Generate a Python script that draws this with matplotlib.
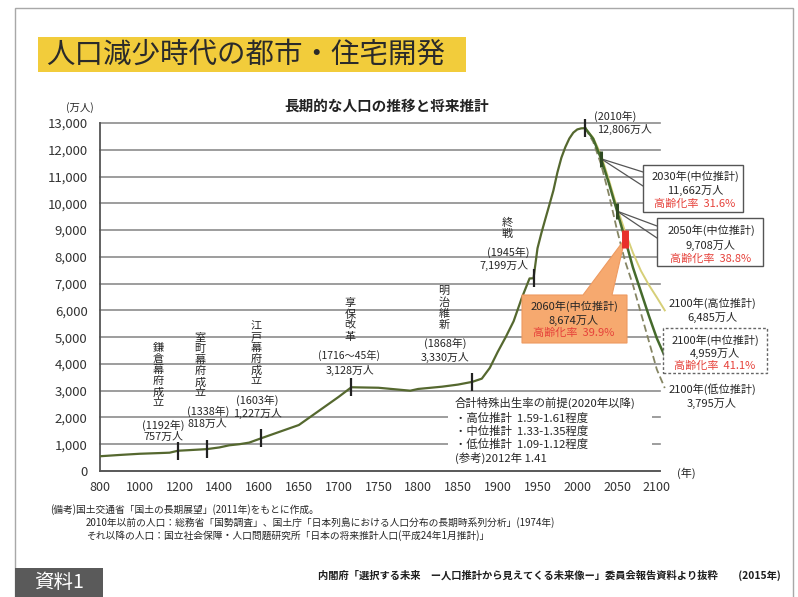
import numpy as np
import matplotlib
matplotlib.use("Agg")
import matplotlib.pyplot as plt
from matplotlib.patches import Rectangle, Polygon
from matplotlib.lines import Line2D
from matplotlib.ticker import NullLocator

plt.rcParams['font.family'] = ['Noto Sans CJK JP', 'DejaVu Sans']

# ---------------- data ----------------
TICK_YEARS = [800, 1000, 1200, 1400, 1600, 1650, 1700, 1750, 1800, 1850,
              1900, 1950, 2000, 2050, 2100]
Y_TICKS = [0, 1000, 2000, 3000, 4000, 5000, 6000, 7000, 8000, 9000,
           10000, 11000, 12000, 13000]

HIST_YEARS = [800, 900, 1000, 1100, 1150, 1192, 1250, 1338, 1400, 1450, 1500,
              1550, 1603, 1650, 1700, 1716, 1750, 1790, 1800, 1830, 1850, 1868,
              1880, 1890, 1900, 1910, 1920, 1930, 1940, 1945, 1950, 1955, 1960,
              1965, 1970, 1975, 1980, 1985, 1990, 1995, 2000, 2005, 2010]
HIST_POP = [551, 600, 644, 670, 684, 757, 780, 818, 880, 960, 1000,
            1060, 1227, 1718, 2769, 3128, 3110, 3000, 3065, 3150, 3228, 3330,
            3450, 3850, 4450, 5000, 5596, 6445, 7193, 7199, 8320, 8900, 9430,
            9950, 10480, 11150, 11700, 12100, 12420, 12640, 12760, 12800, 12806]

PROJ_YEARS = [2010, 2020, 2030, 2040, 2050, 2060, 2070, 2080, 2090, 2100, 2110]
PROJ_MED = [12806, 12410, 11662, 10728, 9708, 8674, 7600, 6700, 5800, 4959, 4286]
PROJ_HIGH = [12806, 12450, 11800, 10850, 9850, 8950, 8150, 7480, 6950, 6485, 6000]
PROJ_LOW = [12806, 12300, 11450, 10300, 9000, 7850, 6950, 5900, 4850, 3795, 3100]

EVENT_YEARS = [1192, 1338, 1603, 1716, 1868, 1945, 2010]
EVENT_POP = [757, 818, 1227, 3128, 3330, 7199, 12806]
PROJ_MARK_YEARS = [2030, 2050]
PROJ_MARK_POP = [11662, 9708]
RED_YEAR = 2060
RED_POP = 8674

# ---------------- figure ----------------
W, H = 798, 597
fig = plt.figure(figsize=(W / 100, H / 100), dpi=100)
fig.patch.set_facecolor('white')


def P(x, y):
    return (x / W, 1 - y / H)


ax = fig.add_axes([100 / W, 1 - 471 / H, 560 / W, 348 / H])

SC_YEARS = np.array(TICK_YEARS + [2150], dtype=float)
SC_IDX = np.arange(len(SC_YEARS), dtype=float)


def fwd(x):
    return np.interp(x, SC_YEARS, SC_IDX)


def inv(i):
    return np.interp(i, SC_IDX, SC_YEARS)


ax.set_xscale('function', functions=(fwd, inv))
ax.set_xlim(800, 2104)
ax.set_ylim(0, 13000)
ax.set_xticks(TICK_YEARS)
ax.set_xticklabels([str(t) for t in TICK_YEARS])
ax.xaxis.set_minor_locator(NullLocator())
ax.set_yticks(Y_TICKS)
ax.set_yticklabels([f"{v:,}" for v in Y_TICKS])
ax.tick_params(axis='x', length=0, pad=7, labelsize=9, colors='#333333')
ax.tick_params(axis='y', length=0, pad=9, labelsize=9.5, colors='#333333')
ax.set_axisbelow(True)
ax.yaxis.grid(True, color='#8c8c8c', lw=1.2)
for gl in ax.yaxis.get_gridlines():
    gl.set_clip_on(False)
for s in ['top', 'right']:
    ax.spines[s].set_visible(False)
for s in ['left', 'bottom']:
    ax.spines[s].set_color('#555555')
    ax.spines[s].set_linewidth(1.3)

# curves
ax.plot(HIST_YEARS, HIST_POP, color='#55682f', lw=1.6, zorder=3)
ax.plot(PROJ_YEARS, PROJ_LOW, color='#858563', lw=1.3, ls=(0, (4, 2)),
        zorder=3, clip_on=False)
ax.plot(PROJ_YEARS, PROJ_HIGH, color='#d6cf78', lw=1.4, zorder=3, clip_on=False)
ax.plot(PROJ_YEARS, PROJ_MED, color='#456a2c', lw=1.8, zorder=4, clip_on=False)

# markers
ax.plot(EVENT_YEARS, EVENT_POP, ls='none', marker='|', ms=13, mew=1.6,
        color='#222222', zorder=6, clip_on=False)
ax.plot(PROJ_MARK_YEARS, PROJ_MARK_POP, ls='none', marker='|', ms=12, mew=2.2,
        color='#2f4a22', zorder=6, clip_on=False)


def d2f(x, y):
    return fig.transFigure.inverted().transform(ax.transData.transform((x, y)))


TXT = '#262626'
RED = '#e6413a'
FT = fig.transFigure


def atext(x, y, s, size=7.8, color=TXT, ha='center', va='center', **kw):
    ax.text(*P(x, y), s, transform=FT, fontsize=size, color=color, ha=ha,
            va=va, zorder=8, clip_on=False, **kw)


def vtext(x, ytop, s, size=8.0):
    ax.text(*P(x, ytop), '\n'.join(s), transform=FT, fontsize=size, color=TXT,
            ha='center', va='top', linespacing=1.13, zorder=8, clip_on=False)


def box(x0, y0, x1, y1, fc='white', ec='#555555', lw=1.0, ls='-', z=7):
    ax.add_patch(Rectangle(P(x0, y1), (x1 - x0) / W, (y1 - y0) / H,
                           transform=FT, fc=fc, ec=ec, lw=lw, ls=ls,
                           zorder=z, clip_on=False))


def fline(p0, p1, color='#555555', lw=0.9, z=5):
    ax.add_line(Line2D([p0[0], p1[0]], [p0[1], p1[1]], transform=FT,
                       color=color, lw=lw, zorder=z, clip_on=False))


# event labels
vtext(158, 343, '鎌倉幕府成立')
atext(163, 425, '(1192年)')
atext(163, 437, '757万人')
vtext(200, 333, '室町幕府成立')
atext(208, 411, '(1338年)')
atext(207, 424, '818万人')
vtext(256, 321, '江戸幕府成立')
atext(257, 400, '(1603年)')
atext(257, 413, '1,227万人')
vtext(350, 298, '享保改革')
atext(349, 355, '(1716〜45年)', size=7.4)
atext(350, 370, '3,128万人')
vtext(444, 286, '明治維新')
atext(445, 343, '(1868年)')
atext(445, 357, '3,330万人')
vtext(507, 218, '終戦')
atext(508, 252, '(1945年)')
atext(504, 265, '7,199万人')
atext(615, 116, '(2010年)')
atext(597, 129, '12,806万人', ha='left')

# 2030 callout
pt = d2f(2030, PROJ_MARK_POP[0])
fline(pt, P(643, 172))
fline(pt, P(643, 186))
box(643, 165, 743, 212)
atext(695, 176, '2030年(中位推計)', size=8)
atext(695, 190, '11,662万人', size=8)
atext(695, 204, '高齢化率  31.6%', color=RED, size=8)

# 2050 callout
pt = d2f(2050, PROJ_MARK_POP[1])
fline(pt, P(657, 226))
fline(pt, P(657, 238))
box(657, 218, 763, 266)
atext(711, 230, '2050年(中位推計)', size=8)
atext(711, 245, '9,708万人', size=8)
atext(711, 259, '高齢化率  38.8%', color=RED, size=8)

# 2060 orange callout
tip = d2f(RED_YEAR, RED_POP)
verts = [P(522, 295), P(583, 295), tip, P(612, 295), P(627, 295),
         P(627, 343), P(522, 343)]
ax.add_patch(Polygon(verts, closed=True, transform=FT, fc='#f6a96f',
                     ec='#ee9a60', lw=0.8, zorder=7, clip_on=False))
ax.plot([RED_YEAR], [RED_POP], ls='none', marker='|', ms=13, mew=5,
        color='#e8302a', zorder=9, clip_on=False)
atext(574, 306, '2060年(中位推計)', size=8)
atext(574, 320, '8,674万人', size=8)
atext(574, 333, '高齢化率  39.9%', color=RED, size=8)

# 2100 labels
atext(712, 303, '2100年(高位推計)', size=8)
atext(712, 317, '6,485万人', size=8)
box(663, 328, 767, 373, ec='#666666', ls=(0, (2, 1.5)))
atext(715, 340, '2100年(中位推計)', size=8)
atext(715, 353, '4,959万人', size=8)
atext(715, 366, '高齢化率  41.1%', color=RED, size=8)
atext(712, 389, '2100年(低位推計)', size=8)
atext(712, 403, '3,795万人', size=8)

# fertility assumption block
box(448, 395, 652, 469, ec='none', z=2)
atext(455, 403, '合計特殊出生率の前提(2020年以降)', ha='left', size=8.2)
atext(455, 418, '・高位推計  1.59-1.61程度', ha='left', size=8.2)
atext(455, 431, '・中位推計  1.33-1.35程度', ha='left', size=8.2)
atext(455, 444, '・低位推計  1.09-1.12程度', ha='left', size=8.2)
atext(455, 458, '(参考)2012年 1.41', ha='left', size=8.2)

# axis unit labels
fig.text(*P(80, 108), '(万人)', fontsize=7.5, color=TXT, ha='center', va='center')
fig.text(*P(686, 473), '(年)', fontsize=8, color=TXT, ha='center', va='center')
fig.text(*P(387, 106), '長期的な人口の推移と将来推計', fontsize=10.5,
         color='#222222', ha='center', va='center', fontweight='bold')

# title band
fig.patches.append(Rectangle(P(38, 72), (466 - 38) / W, (72 - 37) / H,
                             transform=FT, fc='#f2cc3b', ec='none', zorder=1))
fig.text(*P(46, 55), '人口減少時代の都市・住宅開発', fontsize=20.5,
         color='#2a2a2a', ha='left', va='center', zorder=3)

# outer frame
fig.patches.append(Rectangle(P(15, 600), (793 - 15) / W, (600 - 8) / H,
                             transform=FT, fc='none', ec='#a8a8a8', lw=1.0,
                             zorder=1))

# notes
fig.text(*P(50, 510), '(備考)国土交通省「国土の長期展望」(2011年)をもとに作成。',
         fontsize=7.0, color=TXT, ha='left', va='center')
fig.text(*P(86, 523), '2010年以前の人口：総務省「国勢調査」、国土庁「日本列島における人口分布の長期時系列分析」(1974年)',
         fontsize=7.0, color=TXT, ha='left', va='center')
fig.text(*P(86, 536), 'それ以降の人口：国立社会保障・人口問題研究所「日本の将来推計人口(平成24年1月推計)」',
         fontsize=7.0, color=TXT, ha='left', va='center')
fig.text(*P(781, 575), '内閣府「選択する未来　ー人口推計から見えてくる未来像ー」委員会報告資料より抜粋　　(2015年)',
         fontsize=7.4, color='#1e1e1e', ha='right', va='center', fontweight='bold')

# 資料1 tag
fig.patches.append(Rectangle(P(15, 597), (103 - 15) / W, (597 - 568) / H,
                             transform=FT, fc='#5a5a5a', ec='none', zorder=2))
fig.text(*P(59, 583), '資料1', fontsize=14, color='white', ha='center',
         va='center', zorder=4)

fig.savefig('out.png', dpi=100)
